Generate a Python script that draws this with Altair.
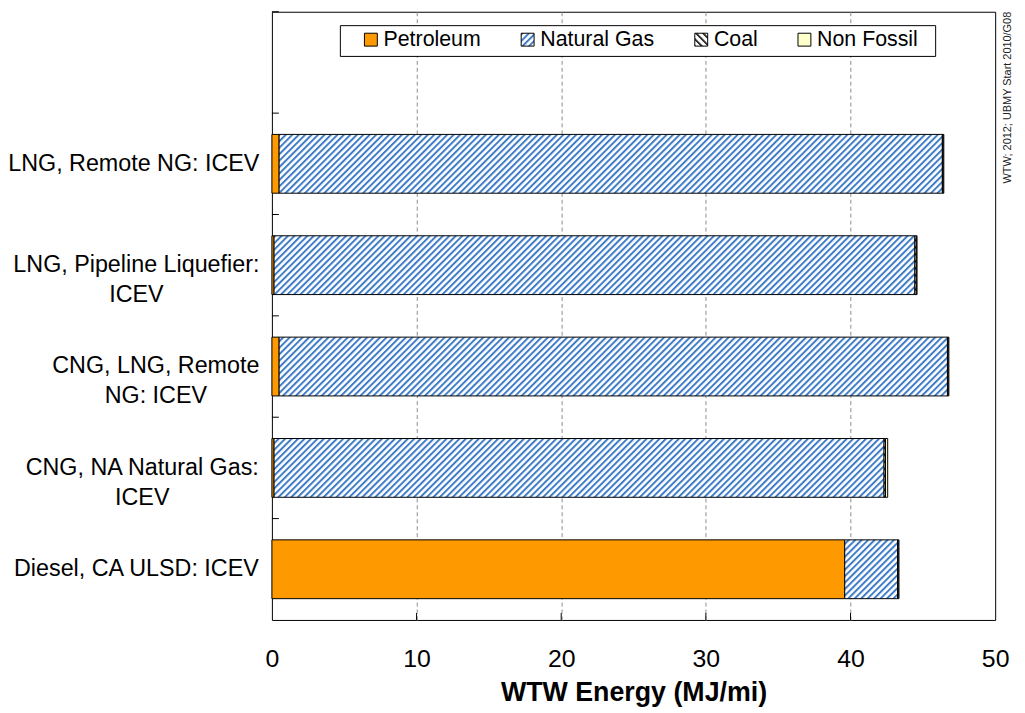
import altair as alt
import pandas as pd
import jinja2

# ---------------- data ----------------
categories = [
    "LNG, Remote NG: ICEV",
    "LNG, Pipeline Liquefier:|ICEV",
    "CNG, LNG, Remote|NG: ICEV",
    "CNG, NA Natural Gas:|ICEV",
    "Diesel, CA ULSD: ICEV",
]
blank_slot = " "
sources = ["Petroleum", "Natural Gas", "Coal", "Non Fossil"]
petroleum = [0.5, 0.15, 0.5, 0.15, 39.6]
natural_gas = [45.85, 44.3, 46.2, 42.17, 3.65]
coal = [0.05, 0.1, 0.05, 0.1, 0.05]
non_fossil = [0.05, 0.05, 0.05, 0.15, 0.05]
x_ticks = [0, 10, 20, 30, 40, 50]
x_title = "WTW Energy (MJ/mi)"
note = "WTW; 2012; UBMY Start 2010/G08"

source_colors = ["#FF9900", "url(#ngHatch)", "url(#coalHatch)", "#FFFFCC"]

# layout only: distance from the axis to the centre of each (centred, multi-line) label block
label_center_offset = [139.7, 137.1, 117.5, 131.2, 137.1]

y_domain = [blank_slot] + categories

rows = []
series = [petroleum, natural_gas, coal, non_fossil]
for i, k in enumerate(categories):
    for j, (src, vals) in enumerate(zip(sources, series)):
        rows.append({"cat": k, "source": src, "ord": j, "value": vals[i]})
df = pd.DataFrame(rows)

pad_expr = ""
for k, off in zip(categories, label_center_offset):
    pad_expr += f"datum.value === '{k}' ? {off} : "
pad_expr += "12"

W, H = 729, 613
FONT = "Liberation Sans"

yscale = alt.Scale(domain=y_domain, paddingInner=0, paddingOuter=0)
xscale = alt.Scale(domain=[0, 50], nice=False)

bars = alt.Chart(df).mark_bar(height={"band": 0.58}, stroke="black", strokeWidth=1).encode(
    x=alt.X("value:Q", stack="zero", scale=xscale,
            axis=alt.Axis(values=x_ticks, title=x_title, ticks=False, tickSize=0, domain=False,
                          labelFlush=False, labelPadding=27, labelFontSize=25,
                          titleFontSize=27, titleFontWeight="bold", titlePadding=8,
                          grid=True, gridColor="#8c8c8c", gridDash=[4, 3],
                          gridOpacity={"condition": {"test": "datum.value == 0 || datum.value == 50", "value": 0},
                                       "value": 1})),
    y=alt.Y("cat:N", scale=yscale, sort=None,
            axis=alt.Axis(title=None, ticks=False, tickSize=0, domain=False,
                          labelPadding={"expr": pad_expr}, labelAlign="center",
                          labelFontSize=23.5, labelLimit=600, labelLineHeight=30,
                          labelExpr="split(datum.label, '|')")),
    color=alt.Color("source:N", scale=alt.Scale(domain=sources, range=source_colors),
                    legend=alt.Legend(orient="none", legendX=89, legendY=17, direction="horizontal",
                                      title=None, symbolType="square", symbolSize=169,
                                      symbolStrokeColor="black", symbolStrokeWidth=1,
                                      labelFontSize=21.5, labelFont=FONT, labelOffset=2,
                                      columnPadding=36, padding=0, labelLimit=300,
                                      symbolOpacity=1)),
    order=alt.Order("ord:Q"),
)

yticks = alt.Chart(pd.DataFrame({"cat": y_domain})).mark_rule(color="black", strokeWidth=1).encode(
    y=alt.Y("cat:N", bandPosition=0, scale=yscale, sort=None),
    x=alt.value(0), x2=alt.value(7),
)

xticks = alt.Chart(pd.DataFrame({"v": x_ticks[1:-1]})).mark_rule(color="black", strokeWidth=1).encode(
    x=alt.X("v:Q", scale=xscale), y=alt.value(H), y2=alt.value(H - 7),
)

legend_box = alt.Chart(pd.DataFrame({"a": [0]})).mark_rect(fill="white", stroke="black", strokeWidth=1).encode(
    x=alt.value(69), x2=alt.value(669), y=alt.value(14), y2=alt.value(45),
)

note_text = alt.Chart(pd.DataFrame({"t": [note]})).mark_text(
    angle=270, align="right", baseline="middle", fontSize=11, font=FONT, color="#222"
).encode(text="t:N", x=alt.value(W + 13), y=alt.value(0))

chart = alt.layer(legend_box, bars, yticks, xticks, note_text).properties(
    width=W, height=H,
    padding={"left": 266, "top": 1, "right": 22, "bottom": 91},
    autosize=alt.AutoSizeParams(type="none"),
).configure_view(stroke="black", strokeWidth=1).configure_axis(
    labelFont=FONT, titleFont=FONT, labelColor="black", titleColor="black"
)

TEMPLATE = jinja2.Template("""<!DOCTYPE html>
<html>
<head>
  <style>
    html, body { overflow: hidden; }
    #{{ output_div }}.vega-embed { width: 100%; display: flex; }
  </style>
  <script type="text/javascript" src="{{ base_url }}/vega@{{ vega_version }}"></script>
  <script type="text/javascript" src="{{ base_url }}/vega-lite@{{ vegalite_version }}"></script>
  <script type="text/javascript" src="{{ base_url }}/vega-embed@{{ vegaembed_version }}"></script>
</head>
<body>
  <svg width="0" height="0" style="position:absolute;left:0;top:0" aria-hidden="true">
    <defs>
      <pattern id="ngHatch" patternUnits="userSpaceOnUse" width="4.6" height="4.6" patternTransform="rotate(45)">
        <rect x="0" y="0" width="4.6" height="4.6" fill="#ffffff"/>
        <rect x="0" y="0" width="2" height="4.6" fill="#3f7cc6"/>
      </pattern>
      <pattern id="coalHatch" patternUnits="userSpaceOnUse" width="5" height="5" patternTransform="rotate(-45)">
        <rect x="0" y="0" width="5" height="5" fill="#ffffff"/>
        <rect x="0" y="0" width="1.6" height="5" fill="#000000"/>
      </pattern>
    </defs>
  </svg>
  <div id="{{ output_div }}"></div>
  <script>
    (function(vegaEmbed) {
      var spec = {{ spec }};
      var embedOpt = {{ embed_options }};
      vegaEmbed("#{{ output_div }}", spec, embedOpt).catch(function (e) {
        document.getElementById("{{ output_div }}").innerHTML = '<pre style="color:red">' + e.message + '</pre>';
        throw e;
      });
    })(vegaEmbed);
  </script>
</body>
</html>
""")

chart.save("out.html", embed_options={"renderer": "svg", "actions": False}, template=TEMPLATE)
